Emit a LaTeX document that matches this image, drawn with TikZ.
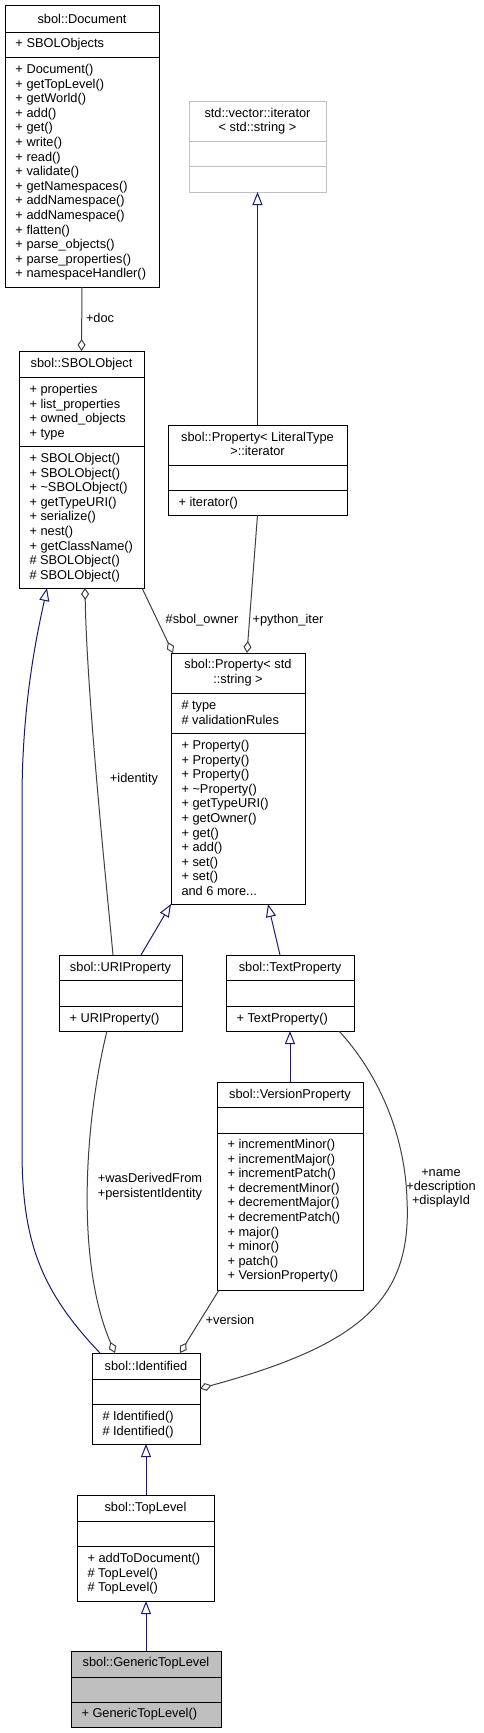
\documentclass[tikz,border=0pt]{standalone}
\usepackage{fontspec}
\setmainfont{Liberation Sans}
\usetikzlibrary{arrows.meta,calc}
\definecolor{inhcol}{HTML}{191970}
\definecolor{aggcol}{HTML}{404040}
\definecolor{lgray}{HTML}{BFBFBF}
\newcommand\threedots{...}
\tikzset{
  classbox/.style={rectangle, line width=1pt, inner sep=0pt, outer sep=0pt},
  mtext/.style={font=\fontsize{12.8}{14.6}\selectfont, inner sep=0pt, outer sep=0pt, text=black},
  agg/.style={draw=aggcol, line width=1pt, -{Diamond[open,length=12pt,width=8pt]}},
  inh/.style={draw=inhcol, line width=1pt, -{Triangle[open,length=13pt,width=10pt]}},
  elabel/.style={mtext, align=center}
}
% name, x1, y1, x2, y2, sep1, sep2, draw colour, fill colour
\newcommand\umlclass[9]{%
  \node[classbox, draw=#8, fill=#9, minimum width={(#4-#2)*1pt}, minimum height={(#5-#3)*1pt}, anchor=north west] (#1) at (#2,#3) {};
  \draw[#8, line width=1pt] (#2,#6) -- (#4,#6) (#2,#7) -- (#4,#7);}
% name, x, first line centre y, list
\newcommand\umlmembers[4]{%
  \foreach \mtxt [count=\i from 0] in {#4}
    \node[mtext, anchor=base west] (#1-\i) at (#2, {#3+4.5+\i*14.6}) {\mtxt};}
% name, centre x, centre y, text
\newcommand\umltitle[4]{\node[mtext, anchor=base] (#1) at (#2,{#3+4.5}) {#4};}

\begin{document}
\begin{tikzpicture}[x=1pt, y=-1pt]
\useasboundingbox[fill=white] (0,0) rectangle (483,1733);

% sbol::Document
\umlclass{doc}{5}{5}{159}{287}{32}{57}{black}{white}
\umltitle{doc-t}{82}{18.5}{sbol::Document}
\umlmembers{doc-a}{15.5}{42.7}{+ SBOLObjects}
\umlmembers{doc-m}{15.5}{69}{+ Document(), + getTopLevel(), + getWorld(), + add(), + get(), + write(), + read(), + validate(), + getNamespaces(), + addNamespace(), + addNamespace(), + flatten(), + parse\_objects(), + parse\_properties(), + namespaceHandler()}

% std::vector::iterator
\umlclass{vec}{189}{101}{326}{192}{141}{166}{lgray}{white}
\umltitle{vec-t1}{257.5}{113}{std::vector::iterator}
\umltitle{vec-t2}{257.5}{127}{< std::string >}

% sbol::Property< LiteralType >::iterator
\umlclass{pit}{168}{425}{347}{515}{465}{490}{black}{white}
\umltitle{pit-t1}{257.5}{437}{sbol::Property< LiteralType}
\umltitle{pit-t2}{257.5}{451}{>::iterator}
\umlmembers{pit-m}{178.5}{502}{+ iterator()}

% sbol::SBOLObject
\umlclass{sbo}{19}{351}{144}{588}{377}{446}{black}{white}
\umltitle{sbo-t}{81.5}{363}{sbol::SBOLObject}
\umlmembers{sbo-a}{29.5}{389}{+ properties, + list\_properties, + owned\_objects, + type}
\umlmembers{sbo-m}{29.5}{458}{+ SBOLObject(), + SBOLObject(), + \textasciitilde SBOLObject(), + getTypeURI(), + serialize(), + nest(), + getClassName(), \# SBOLObject(), \# SBOLObject()}

% sbol::Property< std::string >
\umlclass{prop}{171}{653}{305}{904}{693}{733}{black}{white}
\umltitle{prop-t1}{238}{664}{sbol::Property< std}
\umltitle{prop-t2}{238}{679}{::string >}
\umlmembers{prop-a}{181.5}{705}{\# type, \# validationRules}
\umlmembers{prop-m}{181.5}{745}{+ Property(), + Property(), + Property(), + \textasciitilde Property(), + getTypeURI(), + getOwner(), + get(), + add(), + set(), + set(), and 6 more\threedots}

% sbol::URIProperty
\umlclass{uri}{59}{955}{182}{1031}{980}{1006}{black}{white}
\umltitle{uri-t}{120.5}{967}{sbol::URIProperty}
\umlmembers{uri-m}{69.5}{1018}{+ URIProperty()}

% sbol::TextProperty
\umlclass{txt}{226}{955}{354}{1031}{980}{1006}{black}{white}
\umltitle{txt-t}{290}{967}{sbol::TextProperty}
\umlmembers{txt-m}{236.5}{1018}{+ TextProperty()}

% sbol::VersionProperty
\umlclass{ver}{217}{1082}{363}{1290}{1107}{1133}{black}{white}
\umltitle{ver-t}{290}{1094}{sbol::VersionProperty}
\umlmembers{ver-m}{227.5}{1144}{+ incrementMinor(), + incrementMajor(), + incrementPatch(), + decrementMinor(), + decrementMajor(), + decrementPatch(), + major(), + minor(), + patch(), + VersionProperty()}

% sbol::Identified
\umlclass{idf}{92}{1353}{200}{1444}{1379}{1404}{black}{white}
\umltitle{idf-t}{146}{1366}{sbol::Identified}
\umlmembers{idf-m}{102.5}{1416}{\# Identified(), \# Identified()}

% sbol::TopLevel
\umlclass{top}{77}{1495}{214}{1601}{1521}{1546}{black}{white}
\umltitle{top-t}{145.5}{1507}{sbol::TopLevel}
\umlmembers{top-m}{87.5}{1558}{+ addToDocument(), \# TopLevel(), \# TopLevel()}

% sbol::GenericTopLevel
\umlclass{gen}{71}{1651}{221}{1727}{1677}{1702}{black}{lgray}
\umltitle{gen-t}{146}{1662}{sbol::GenericTopLevel}
\umlmembers{gen-m}{81.5}{1713}{+ GenericTopLevel()}

% connectors
\draw[agg] (doc.south) -- (sbo.north);
\draw[inh] (pit.north) -- (vec.south);
\draw[agg] (pit.south) -- ($(prop.north)+(9,0)$);
\draw[agg] ($(sbo.south east)+(-2,0)$) -- ($(prop.north west)+(2,0)$);
\draw[agg] ($(uri.north)+(-7.5,0)$) .. controls (108,900) and (87,700) .. ($(sbo.south)+(3.5,0)$);
\draw[inh] ($(uri.north)+(20.5,0)$) -- (prop.south west);
\draw[inh] ($(txt.north)+(-10,0)$) -- ($(prop.south)+(30,0)$);
\draw[inh] (ver.north) -- (txt.south);
\draw[agg] ($(ver.south west)+(2,0)$) -- ($(idf.north)+(34,0)$);
\draw[agg] ($(uri.south)+(-13.5,0)$) .. controls (85,1120) and (75,1260) .. ($(idf.north)+(-31,0)$);
\draw[agg] ($(txt.south east)+(-15,0)$) .. controls (375,1070) and (405,1130) .. (407,1200) .. controls (412,1300) and (360,1345) .. ($(idf.east)+(0,-10)$);
\draw[inh] ($(idf.north west)+(8,0)$) .. controls (40,1290) and (22,1240) .. (22,1150) -- (22,800) .. controls (22,700) and (38,630) .. ($(sbo.south west)+(28,0)$);
\draw[inh] (top.north -| idf.south) -- (idf.south);
\draw[inh] (gen.north -| idf.south) -- (top.south -| idf.south);

% connector labels
\node[mtext, anchor=base west] (l-doc) at (86,322.5) {+doc};
\node[mtext, anchor=base] (l-own) at (202,623.5) {\#sbol\_owner};
\node[mtext, anchor=base] (l-py) at (288,623.5) {+python\_iter};
\node[mtext, anchor=base] (l-id) at (134,782.5) {+identity};
\node[mtext, anchor=base] (l-ver) at (230,1324.5) {+version};
\node[mtext, anchor=base] (l-wd1) at (150,1182.5) {+wasDerivedFrom};
\node[mtext, anchor=base] (l-wd2) at (150,1197.5) {+persistentIdentity};
\node[mtext, anchor=base] (l-n1) at (441,1176.5) {+name};
\node[mtext, anchor=base] (l-n2) at (441,1190.5) {+description};
\node[mtext, anchor=base] (l-n3) at (441,1204.5) {+displayId};
\end{tikzpicture}
\end{document}
